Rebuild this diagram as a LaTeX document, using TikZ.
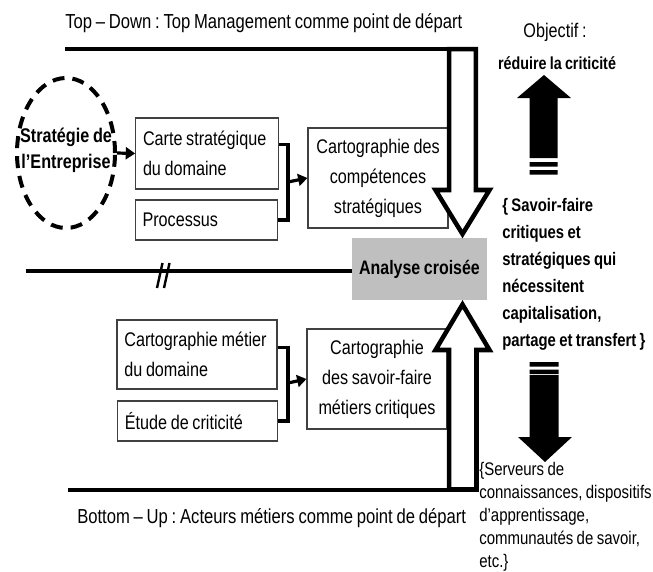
\documentclass[tikz,border=0pt]{standalone}
\usepackage{fontspec}
\setmainfont{Liberation Sans}[FakeStretch=0.82, WordSpace=0.82]
\usetikzlibrary{arrows.meta, shapes, positioning}
\frenchspacing

\begin{document}
\begin{tikzpicture}[x=0.75pt, y=-0.75pt,
				block/.style={rectangle, draw=black!75, line width=0.8pt, align=flush left, inner xsep=5.5pt,
						font=\fontsize{14.8}{22.5}\selectfont},
				line/.style={draw, line width=2.4pt, -{Triangle[length=7pt, width=9pt]}},
				bar/.style={draw, line width=3pt},
				hollow/.style={draw, fill=white, line width=3.4pt, line join=miter},
				txt/.style={inner sep=0pt, font=\fontsize{15.2}{18}\selectfont}
			]
			\useasboundingbox (0,0) rectangle (653,571);

			% top part
			\node [ellipse, draw, line width=3pt, dash pattern=on 9pt off 6pt, minimum width=73.5pt,
				minimum height=112.5pt, inner sep=0pt] (block1) at (66,153) {};
			\node [align=flush center, inner sep=0pt, font=\bfseries\fontsize{14.8}{19.5}\selectfont] (label1)
				at (66,150) {Stratégie de\\ l'Entreprise};
			\node [block, text width=96pt, minimum height=53.25pt] (block2) at (207,153.5) {Carte stratégique\\ du domaine};
			\node [block, text width=96pt, minimum height=30pt] (block3) at (206.5,220) {Processus};
			\node [block, align=flush center, inner xsep=2pt, text width=101pt, minimum height=75pt] (block4) at (378,178) {Cartographie des\\ compétences\\ stratégiques};

			% bottom part
			\node [block, text width=109pt, minimum height=51.75pt] (block5) at (197,354.5) {Cartographie métier\\ du domaine};
			\node [block, text width=109pt, minimum height=30pt] (block6) at (197.5,421) {Étude de criticité};
			\node [block, align=flush center, inner xsep=2pt, text width=101pt, minimum height=75pt] (block7) at (377,379) {Cartographie\\ des savoir-faire\\ métiers critiques};

			\node [rectangle, fill=black!25, minimum width=101.25pt, minimum height=46.5pt,
				font=\bfseries\fontsize{14.6}{18}\selectfont] (block8) at (419.5,269) {Analyse croisée};

			\coordinate (join1) at (288,182);
			\coordinate (join2) at (288,383);
			\path [line] (block1.east) -- (block2.west);
			\draw [line width=2.4pt, line join=miter] ([yshift=7pt]block2.east) -| (join1) |- (block3.east);
			\path [line] (join1) -- (block4.west);
			\draw [line width=2.4pt, line join=miter] ([yshift=5.5pt]block5.east) -| (join2) |- (block6.east);
			\path [line] (join2) -- (block7.west);

			% lines
			\coordinate (top0) at (65,49.2);
			\coordinate (top1) at (449.2,49.2);
			\coordinate (mid0) at (26,271);
			\coordinate (bot0) at (68,489.5);
			\coordinate (bot1) at (449.2,489.5);
			\path [bar] (top0) -- (top1);
			\path [bar] (mid0) -- (mid0 -| block8.west);
			\path [bar] (bot0) -- (bot1);
			\draw [line width=1.8pt] (157,288) -- (162.5,263) (164,288) -- (169.5,263);

			% hollow arrows
			\draw [hollow] (top1) -- (475.8,49.2) -- (475.8,190) -- (489.5,190) -- (462.5,234)
				-- (435.5,190) -- (449.2,190) -- cycle;
			\draw [hollow] (bot1) -- (449.2,350) -- (435.5,350) -- (462.5,304.5) -- (489.5,350)
				-- (476.5,350) -- (476.5,489.5) -- cycle;

			% black arrows
			\fill (544,75) -- (571,98) -- (557.5,98) -- (557.5,158) -- (529.5,158) -- (529.5,98) -- (517,98) -- cycle;
			\fill (529.5,162) rectangle (557.5,166.5) (529.5,170) rectangle (557.5,174.5);
			\fill (529.5,362) rectangle (558.5,366.5) (529.5,369.5) rectangle (558.5,374);
			\fill (529.5,375) -- (558.5,375) -- (558.5,437) -- (572,437) -- (545,462) -- (518,437) -- (529.5,437) -- cycle;

			% texts
			\node [txt, anchor=base west] (title1) at (65,28) {Top – Down : Top Management comme point de départ};
			\node [txt, anchor=base west] (title2) at (77,523) {Bottom – Up : Acteurs métiers comme point de départ};
			\node [txt, anchor=base, font=\fontsize{14.8}{18}\selectfont] (goal1) at (555,37) {Objectif :};
			\node [txt, anchor=base, font=\bfseries\fontsize{13.1}{16}\selectfont] (goal2) at (557,69) {réduire la criticité};
			\node [txt, anchor=north west, align=flush left, font=\bfseries\fontsize{13.6}{20.3}\selectfont] (result1)
				at (502,198) {\{ Savoir-faire\\ critiques et\\ stratégiques qui\\ nécessitent\\ capitalisation,\\ partage et transfert \}};
			\node [txt, anchor=north west, align=flush left, font=\fontsize{13.7}{17.25}\selectfont] (result2)
				at (479,462) {\{Serveurs de\\ connaissances, dispositifs\\ d'apprentissage,\\ communautés de savoir,\\ etc.\}};
		\end{tikzpicture}
\end{document}
